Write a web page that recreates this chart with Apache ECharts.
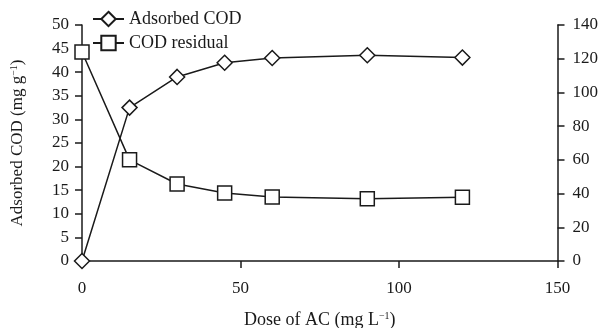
<!DOCTYPE html>
<html>
<head>
<meta charset="utf-8">
<script src="https://cdn.jsdelivr.net/npm/echarts@6/dist/echarts.min.js"></script>
<style>html,body{margin:0;padding:0;background:#fff}#c{width:603px;height:328px}</style>
</head>
<body>
<div id="c"></div>
<script>
const doses = [0, 15, 30, 45, 60, 90, 120];
const adsorbedCOD = [0, 32.5, 39, 42, 43, 43.6, 43.1];
const codResidual = [124, 60, 45.7, 40.3, 38, 37, 37.8];
const xTicks = [0, 50, 100, 150];
const leftTicks = [0, 50];
const rightTicks = [0, 140];

const chart = echarts.init(document.getElementById('c'), null, {renderer: 'canvas'});
const font = 'Liberation Serif';
const ink = '#1a1a1a';
const axisLine = {show: true, onZero: false, lineStyle: {color: ink, width: 1.5}};
const axisTick = {show: true, length: 7, lineStyle: {color: ink, width: 1.5}};
const labelStyle = {color: ink, fontFamily: font, fontSize: 17};
const sup = {fontFamily: font, fontSize: 10, color: ink, padding: [0, 0, 8, 0]};
chart.setOption({
  animation: false,
  backgroundColor: '#fff',
  grid: {left: 82, right: 45.5, top: 25, bottom: 67, containLabel: false, outerBoundsMode: 'none'},
  legend: {
    orient: 'vertical', left: 87, top: 5, itemWidth: 31, itemHeight: 18, itemGap: 6,
    textStyle: {fontFamily: font, fontSize: 18, color: ink},
    data: ['Adsorbed COD', 'COD residual']
  },
  xAxis: {
    type: 'value', min: xTicks[0], max: xTicks[xTicks.length - 1], interval: 50,
    axisLine: axisLine, axisTick: axisTick, splitLine: {show: false},
    axisLabel: Object.assign({margin: 19}, labelStyle),
    name: 'Dose of AC (mg L{sup|−1})', nameLocation: 'middle', nameGap: 50,
    nameTextStyle: {fontFamily: font, fontSize: 18, color: ink, rich: {sup: sup}}
  },
  yAxis: [{
    type: 'value', min: leftTicks[0], max: leftTicks[1], interval: 5, position: 'left',
    axisLine: axisLine, axisTick: axisTick, splitLine: {show: false},
    axisLabel: Object.assign({margin: 13}, labelStyle),
    name: 'Adsorbed COD (mg g{sup|−1})', nameLocation: 'middle', nameGap: 55,
    nameTextStyle: {fontFamily: font, fontSize: 17, color: ink, rich: {sup: sup}}
  }, {
    type: 'value', min: rightTicks[0], max: rightTicks[1], interval: 20, position: 'right',
    axisLine: axisLine, axisTick: axisTick, splitLine: {show: false},
    axisLabel: Object.assign({margin: 15}, labelStyle)
  }],
  series: [{
    name: 'Adsorbed COD', type: 'line', yAxisIndex: 0,
    data: doses.map((d, i) => [d, adsorbedCOD[i]]),
    symbol: 'diamond', symbolSize: 15,
    lineStyle: {color: ink, width: 1.5},
    itemStyle: {color: '#fff', borderColor: ink, borderWidth: 1.5}
  }, {
    name: 'COD residual', type: 'line', yAxisIndex: 1,
    data: doses.map((d, i) => [d, codResidual[i]]),
    symbol: 'rect', symbolSize: 14,
    lineStyle: {color: ink, width: 1.5},
    itemStyle: {color: '#fff', borderColor: ink, borderWidth: 1.5}
  }]
});
</script>
</body>
</html>
